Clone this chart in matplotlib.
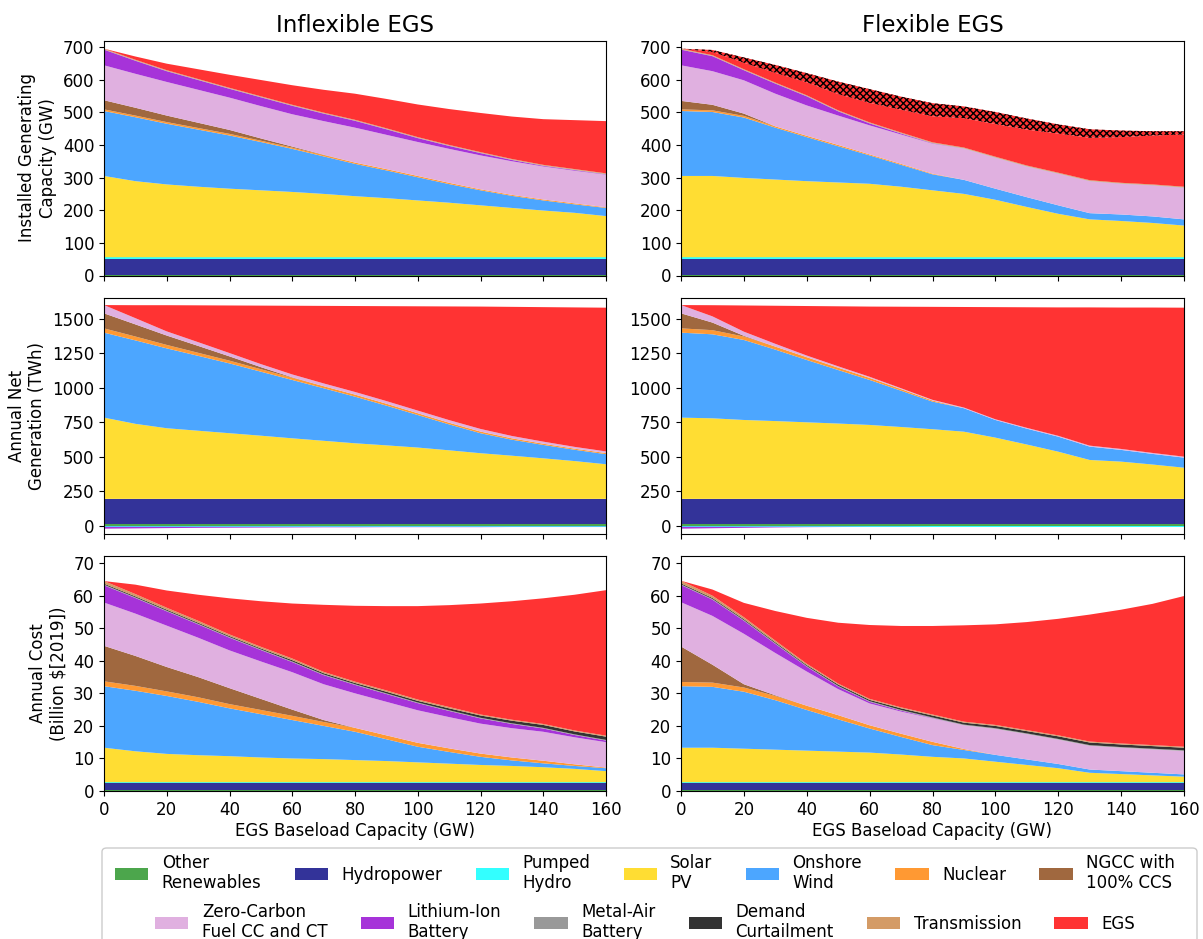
import matplotlib
matplotlib.use("Agg")
import matplotlib.pyplot as plt
import matplotlib.patches as mpatches
import numpy as np

# ---------------- data ----------------
X_GW = [0, 10, 20, 30, 40, 50, 60, 70, 80, 90, 100, 110, 120, 130, 140, 150, 160]

TECHS = ["Other\nRenewables", "Hydropower", "Pumped\nHydro", "Solar\nPV", "Onshore\nWind",
         "Nuclear", "NGCC with\n100% CCS", "Zero-Carbon\nFuel CC and CT", "Lithium-Ion\nBattery",
         "Metal-Air\nBattery", "Demand\nCurtailment", "Transmission", "EGS"]
COLORS = ["#4ca64c", "#333399", "#33ffff", "#ffdd33", "#4ca6ff", "#ff9933", "#a0683f",
          "#e0b0e0", "#a633d9", "#999999", "#333333", "#d49b66", "#ff3333"]

# Installed capacity (GW) - inflexible
cap_in_other = [1, 1, 1, 1, 1, 1, 1, 1, 1, 1, 1, 1, 1, 1, 1, 1, 1]
cap_in_hydro = [50, 50, 50, 50, 50, 50, 50, 50, 50, 50, 50, 50, 50, 50, 50, 50, 50]
cap_in_phs = [5, 5, 5, 5, 5, 5, 5, 5, 5, 5, 5, 5, 5, 5, 5, 5, 5]
cap_in_solar = [249, 233, 223, 216, 210, 205, 200, 194, 187, 181, 174, 167, 159, 151, 143, 136, 126]
cap_in_wind = [199, 196, 186, 175, 163, 148, 132, 115, 99, 85, 71, 57, 46, 37, 31, 26, 25]
cap_in_nuc = [5, 5, 5, 5, 5, 4, 4, 4, 4, 4, 4, 4, 3, 3, 3, 3, 2]
cap_in_ngcc = [28, 24, 20, 16, 12, 7, 3, 1, 0, 0, 0, 0, 0, 0, 0, 0, 0]
cap_in_zc = [107, 104, 103, 101, 99, 99, 99, 103, 107, 105, 104, 104, 104, 103, 101, 100, 100]
cap_in_li = [48, 40, 33, 30, 27, 27, 26, 23, 21, 17, 12, 9, 7, 4, 2, 2, 1]
cap_in_ma = [1, 1, 1, 1, 1, 1, 1, 1, 1, 1, 1, 1, 1, 1, 1, 1, 1]
cap_in_dc = [0, 0, 0, 0, 0, 0, 0, 0, 0, 0, 0, 0, 0, 0, 0, 0, 0]
cap_in_tx = [2, 2, 2, 2, 2, 2, 2, 2, 2, 2, 2, 2, 2, 2, 2, 2, 2]
cap_in_egs = [0, 10, 20, 30, 40, 50, 60, 70, 80, 90, 100, 110, 120, 130, 140, 150, 160]

# Installed capacity (GW) - flexible
cap_fx_other = [1, 1, 1, 1, 1, 1, 1, 1, 1, 1, 1, 1, 1, 1, 1, 1, 1]
cap_fx_hydro = [50, 50, 50, 50, 50, 50, 50, 50, 50, 50, 50, 50, 50, 50, 50, 50, 50]
cap_fx_phs = [5, 5, 5, 5, 5, 5, 5, 5, 5, 5, 5, 5, 5, 5, 5, 5, 5]
cap_fx_solar = [249, 249, 243, 238, 233, 229, 225, 216, 205, 194, 176, 154, 133, 116, 111, 105, 97]
cap_fx_wind = [199, 196, 185, 159, 135, 111, 87, 67, 49, 43, 34, 30, 26, 19, 20, 20, 19]
cap_fx_nuc = [5, 5, 5, 4, 4, 4, 3, 3, 2, 0, 0, 0, 0, 0, 0, 0, 0]
cap_fx_ngcc = [26, 17, 7, 0, 0, 0, 0, 0, 0, 0, 0, 0, 0, 0, 0, 0, 0]
cap_fx_zc = [109, 103, 102, 100, 93, 90, 89, 90, 92, 96, 95, 94, 97, 98, 94, 95, 97]
cap_fx_li = [48, 46, 31, 31, 28, 13, 6, 3, 1, 0, 0, 0, 0, 0, 0, 0, 0]
cap_fx_ma = [1, 1, 1, 1, 1, 1, 1, 1, 1, 1, 1, 1, 1, 1, 1, 1, 1]
cap_fx_dc = [0, 0, 0, 0, 0, 0, 0, 0, 0, 0, 0, 0, 0, 0, 0, 0, 0]
cap_fx_tx = [2, 2, 2, 2, 2, 2, 2, 2, 2, 2, 2, 2, 2, 2, 2, 2, 2]
cap_fx_egs = [0, 10, 20, 30, 40, 50, 60, 70, 80, 90, 100, 110, 120, 130, 140, 150, 160]
cap_fx_egs_extra = [0, 6, 16, 24, 28, 38, 42, 40, 40, 36, 37, 34, 28, 26, 20, 13, 10]

# Annual net generation (TWh) - inflexible
gen_in_other = [15, 15, 15, 15, 15, 15, 15, 15, 15, 15, 15, 15, 15, 15, 15, 15, 15]
gen_in_hydro = [181, 181, 181, 181, 181, 181, 181, 181, 181, 181, 181, 181, 181, 181, 181, 181, 181]
gen_in_phs = [-6, -6, -6, -6, -6, -6, -6, -6, -6, -6, -6, -6, -6, -6, -6, -6, -6]
gen_in_solar = [589, 544, 512, 494, 476, 458, 439, 421, 403, 388, 372, 352, 331, 313, 294, 274, 251]
gen_in_wind = [616, 605, 579, 543, 506, 464, 423, 381, 338, 288, 236, 188, 145, 116, 97, 82, 73]
gen_in_nuc = [31, 28, 25, 22, 20, 18, 16, 15, 15, 14, 13, 12, 12, 10, 9, 8, 8]
gen_in_ngcc = [109, 88, 68, 50, 31, 15, 3, 0, 0, 0, 0, 0, 0, 0, 0, 0, 0]
gen_in_zc = [60, 45, 30, 27, 24, 22, 21, 20, 19, 19, 19, 19, 19, 17, 15, 13, 12]
gen_in_li = [-14, -12, -10, -8, -7, -6, -5, -4, -4, -3, -3, -3, -3, -2, -2, -2, -2]
gen_in_ma = [0, 0, 0, 0, 0, 0, 0, 0, 0, 0, 0, 0, 0, 0, 0, 0, 0]
gen_in_dc = [0, 0, 0, 0, 0, 0, 0, 0, 0, 0, 0, 0, 0, 0, 0, 0, 0]
gen_in_tx = [0, 0, 0, 0, 0, 0, 0, 0, 0, 0, 0, 0, 0, 0, 0, 0, 0]
gen_in_egs = [0, 94, 190, 267, 345, 424, 498, 562, 623, 688, 756, 824, 887, 936, 975, 1011, 1042]

# Annual net generation (TWh) - flexible
gen_fx_other = [15, 15, 15, 15, 15, 15, 15, 15, 15, 15, 15, 15, 15, 15, 15, 15, 15]
gen_fx_hydro = [181, 181, 181, 181, 181, 181, 181, 181, 181, 181, 181, 181, 181, 181, 181, 181, 181]
gen_fx_phs = [-6, -6, -6, -6, -6, -6, -6, -6, -6, -6, -6, -6, -6, -6, -6, -6, -6]
gen_fx_solar = [589, 584, 572, 564, 555, 546, 536, 521, 505, 487, 444, 394, 342, 282, 270, 249, 226]
gen_fx_wind = [616, 609, 580, 518, 452, 388, 326, 263, 200, 170, 128, 115, 109, 97, 85, 77, 73]
gen_fx_nuc = [31, 30, 25, 22, 20, 17, 15, 12, 8, 0, 0, 0, 0, 0, 0, 0, 0]
gen_fx_ngcc = [109, 55, 5, 0, 0, 0, 0, 0, 0, 0, 0, 0, 0, 0, 0, 0, 0]
gen_fx_zc = [60, 45, 30, 20, 12, 10, 8, 6, 5, 5, 5, 6, 6, 7, 7, 7, 7]
gen_fx_li = [-14, -11, -8, -5, -3, -2, -1, -1, 0, 0, 0, 0, 0, 0, 0, 0, 0]
gen_fx_ma = [0, 0, 0, 0, 0, 0, 0, 0, 0, 0, 0, 0, 0, 0, 0, 0, 0]
gen_fx_dc = [0, 0, 0, 0, 0, 0, 0, 0, 0, 0, 0, 0, 0, 0, 0, 0, 0]
gen_fx_tx = [0, 0, 0, 0, 0, 0, 0, 0, 0, 0, 0, 0, 0, 0, 0, 0, 0]
gen_fx_egs = [0, 81, 190, 276, 359, 435, 509, 591, 674, 729, 813, 874, 931, 1002, 1025, 1054, 1080]

# Annual cost (billion $2019) - inflexible
cost_in_other = [0.2] * 17
cost_in_hydro = [2.3] * 17
cost_in_phs = [0.2] * 17
cost_in_solar = [10.6, 9.5, 8.7, 8.3, 8.0, 7.6, 7.3, 7.1, 6.8, 6.5, 6.1, 5.7, 5.3, 5.0, 4.6, 4.1, 3.4]
cost_in_wind = [18.9, 18.6, 17.8, 16.4, 14.7, 13.3, 11.8, 10.2, 8.7, 6.7, 4.8, 3.6, 2.5, 1.7, 1.2, 0.9, 0.9]
cost_in_nuc = [1.5, 1.5, 1.4, 1.4, 1.3, 1.3, 1.3, 1.2, 1.2, 1.2, 1.2, 1.1, 1.0, 0.9, 0.8, 0.5, 0.2]
cost_in_ngcc = [10.9, 9.2, 7.5, 6.2, 4.9, 3.4, 1.9, 0.6, 0, 0, 0, 0, 0, 0, 0, 0, 0]
cost_in_zc = [13.3, 13.0, 12.7, 12.1, 11.6, 11.5, 11.5, 11.0, 10.6, 10.3, 10.0, 9.6, 9.2, 9.0, 8.9, 8.3, 7.8]
cost_in_li = [5.3, 4.8, 4.4, 4.1, 3.9, 3.5, 3.1, 2.8, 2.6, 2.4, 2.2, 1.9, 1.6, 1.3, 1.0, 0.7, 0.5]
cost_in_ma = [0.2] * 17
cost_in_dc = [0.3, 0.3, 0.3, 0.3, 0.3, 0.3, 0.4, 0.4, 0.4, 0.5, 0.5, 0.6, 0.7, 0.8, 0.9, 0.9, 1.0]
cost_in_tx = [0.8, 0.7, 0.6, 0.6, 0.5, 0.5, 0.5, 0.4, 0.4, 0.4, 0.4, 0.4, 0.3, 0.3, 0.3, 0.3, 0.3]
cost_in_egs = [0, 2.9, 5.3, 8.0, 11.1, 14.0, 16.9, 20.6, 23.3, 25.9, 28.7, 31.3, 34.1, 36.4, 38.6, 41.7, 44.7]

# Annual cost (billion $2019) - flexible
cost_fx_other = [0.2] * 17
cost_fx_hydro = [2.3] * 17
cost_fx_phs = [0.2] * 17
cost_fx_solar = [10.6, 10.6, 10.3, 10.0, 9.7, 9.4, 9.1, 8.5, 7.8, 7.3, 6.3, 5.3, 4.3, 2.9, 2.5, 2.1, 1.7]
cost_fx_wind = [18.9, 18.7, 17.5, 15.2, 12.5, 9.9, 7.4, 5.4, 3.6, 2.6, 2.1, 1.7, 1.3, 1.0, 0.9, 0.8, 0.7]
cost_fx_nuc = [1.3, 1.3, 1.3, 1.3, 1.3, 1.3, 1.0, 1.0, 1.0, 0.3, 0, 0, 0, 0, 0, 0, 0]
cost_fx_ngcc = [10.9, 5.5, 1.0, 0.2, 0, 0, 0, 0, 0, 0, 0, 0, 0, 0, 0, 0, 0]
cost_fx_zc = [13.6, 15.0, 15.5, 13.0, 10.5, 8.0, 6.7, 6.8, 7.2, 7.3, 8.0, 7.8, 7.5, 7.3, 7.2, 7.2, 7.2]
cost_fx_li = [5.3, 5.0, 4.0, 2.8, 1.5, 0.8, 0.5, 0.3, 0.1, 0, 0, 0, 0, 0, 0, 0, 0]
cost_fx_ma = [0.2] * 17
cost_fx_dc = [0.3, 0.3, 0.3, 0.3, 0.3, 0.4, 0.4, 0.5, 0.6, 0.6, 0.7, 0.7, 0.8, 0.8, 0.8, 0.8, 0.8]
cost_fx_tx = [0.8, 0.7, 0.6, 0.5, 0.4, 0.3, 0.3, 0.3, 0.3, 0.3, 0.3, 0.3, 0.3, 0.3, 0.3, 0.3, 0.3]
cost_fx_egs = [0, 1.9, 4.4, 9.1, 14.1, 18.7, 22.7, 25.0, 27.2, 29.6, 30.9, 33.2, 35.8, 39.0, 41.1, 43.4, 46.3]

COL_TITLES = ["Inflexible EGS", "Flexible EGS"]
ROW_LABELS = ["Installed Generating\nCapacity (GW)", "Annual Net\nGeneration (TWh)",
              "Annual Cost\n(Billion $[2019])"]
XLABEL = "EGS Baseload Capacity (GW)"
X_TICKS = [0, 20, 40, 60, 80, 100, 120, 140, 160]
Y_TICKS = [[0, 100, 200, 300, 400, 500, 600, 700],
           [0, 250, 500, 750, 1000, 1250, 1500],
           [0, 10, 20, 30, 40, 50, 60, 70]]
Y_LIMS = [(0, 720), (-55, 1650), (0, 72.2)]

panels = [
    [[cap_in_other, cap_in_hydro, cap_in_phs, cap_in_solar, cap_in_wind, cap_in_nuc, cap_in_ngcc,
      cap_in_zc, cap_in_li, cap_in_ma, cap_in_dc, cap_in_tx, cap_in_egs],
     [cap_fx_other, cap_fx_hydro, cap_fx_phs, cap_fx_solar, cap_fx_wind, cap_fx_nuc, cap_fx_ngcc,
      cap_fx_zc, cap_fx_li, cap_fx_ma, cap_fx_dc, cap_fx_tx, cap_fx_egs]],
    [[gen_in_other, gen_in_hydro, gen_in_phs, gen_in_solar, gen_in_wind, gen_in_nuc, gen_in_ngcc,
      gen_in_zc, gen_in_li, gen_in_ma, gen_in_dc, gen_in_tx, gen_in_egs],
     [gen_fx_other, gen_fx_hydro, gen_fx_phs, gen_fx_solar, gen_fx_wind, gen_fx_nuc, gen_fx_ngcc,
      gen_fx_zc, gen_fx_li, gen_fx_ma, gen_fx_dc, gen_fx_tx, gen_fx_egs]],
    [[cost_in_other, cost_in_hydro, cost_in_phs, cost_in_solar, cost_in_wind, cost_in_nuc, cost_in_ngcc,
      cost_in_zc, cost_in_li, cost_in_ma, cost_in_dc, cost_in_tx, cost_in_egs],
     [cost_fx_other, cost_fx_hydro, cost_fx_phs, cost_fx_solar, cost_fx_wind, cost_fx_nuc, cost_fx_ngcc,
      cost_fx_zc, cost_fx_li, cost_fx_ma, cost_fx_dc, cost_fx_tx, cost_fx_egs]],
]

# ---------------- figure ----------------
plt.rcParams["font.family"] = ["DejaVu Sans"]
fig = plt.figure(figsize=(12.03, 9.39), dpi=100)

W, H = 1203.0, 939.0
col_px = [(104, 606), (681, 1184)]
row_px = [(40.5, 275.5), (298.3, 533.5), (556, 791)]

x = np.array(X_GW, dtype=float)
for r in range(3):
    for c in range(2):
        x0, x1 = col_px[c]
        y0, y1 = row_px[r]
        ax = fig.add_axes([x0 / W, 1 - y1 / H, (x1 - x0) / W, (y1 - y0) / H])
        layers = [np.array(v, dtype=float) for v in panels[r][c]]
        pos = [np.clip(v, 0, None) for v in layers]
        neg = [np.clip(v, None, 0) for v in layers]
        cols = list(COLORS)
        if r == 0 and c == 1:
            pos = pos + [np.array(cap_fx_egs_extra, dtype=float)]
            cols = cols + [COLORS[-1]]
        polys = ax.stackplot(x, *pos, colors=cols, linewidth=0)
        if r == 0 and c == 1:
            polys[-1].set_hatch("xxxxx")
            polys[-1].set_edgecolor("black")
            polys[-1].set_linewidth(0)
        if any(np.any(v < 0) for v in neg):
            ax.stackplot(x, *neg, colors=COLORS, linewidth=0)
        ax.set_xlim(0, 160)
        ax.set_ylim(*Y_LIMS[r])
        ax.set_xticks(X_TICKS)
        ax.set_yticks(Y_TICKS[r])
        ax.tick_params(labelsize=12)
        if r < 2:
            ax.set_xticklabels([])
        else:
            ax.set_xlabel(XLABEL, fontsize=12, labelpad=2)
        if c == 0:
            ax.set_ylabel(ROW_LABELS[r], fontsize=12)
        if r == 0:
            ax.set_title(COL_TITLES[c], fontsize=16.5)

# legend: frame + two centered rows
frame = mpatches.FancyBboxPatch((102 / W, -0.05), (1197 - 102) / W, 0.05 + 1 - 848 / H,
                                boxstyle="round,pad=0,rounding_size=0.004",
                                transform=fig.transFigure, facecolor="white",
                                edgecolor="0.8", linewidth=1.0, zorder=1)
fig.patches.append(frame)
handles = [mpatches.Patch(facecolor=col) for col in COLORS]
leg1 = fig.legend(handles[:7], TECHS[:7], loc="center", bbox_to_anchor=(645 / W, 1 - 873 / H),
                  ncol=7, frameon=False, fontsize=12, handletextpad=0.8, columnspacing=2.0)
leg2 = fig.legend(handles[7:], TECHS[7:], loc="center", bbox_to_anchor=(645 / W, 1 - 922 / H),
                  ncol=6, frameon=False, fontsize=12, handletextpad=0.8, columnspacing=2.0)

fig.savefig("out.png", dpi=100)
